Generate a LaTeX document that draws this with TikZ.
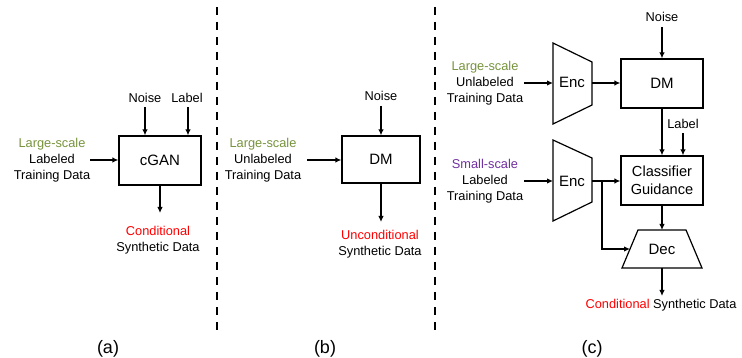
\documentclass[tikz,border=0pt]{standalone}
\usepackage{fontspec}
\setmainfont{Liberation Sans}
\usetikzlibrary{arrows.meta}
\definecolor{lgreen}{HTML}{77933C}
\definecolor{lpurple}{HTML}{7030A0}
\definecolor{lred}{HTML}{FF0000}
\begin{document}
\begin{tikzpicture}[x=1pt,y=-1pt,
  font=\fontsize{12.8}{16}\selectfont,
  txt/.style={align=center,inner sep=0pt},
  box/.style={draw,line width=1.2pt,inner sep=0pt,font=\fontsize{15}{18}\selectfont},
  arr/.style={-{Latex[length=6pt,width=5.5pt]},line width=1.4pt},
  sep/.style={line width=2pt,dash pattern=on 8pt off 7pt},
  panellabel/.style={inner sep=0pt,font=\fontsize{18}{21}\selectfont}]
\useasboundingbox (0,0) rectangle (742,358);

% separators
\draw[sep] (216.5,7) -- (216.5,331);
\draw[sep] (435,7) -- (435,331);

% ---------- (a) ----------
\node[box,minimum width=82pt,minimum height=49pt] (cgan) at (160,160.5) {cGAN};
\node[txt] (na) at (145,98) {Noise};
\node[txt] (la) at (187,98) {Label};
\node[txt] (ia) at (52,160) {{\color{lgreen}Large-scale}\\Labeled\\Training Data};
\node[txt] (oa) at (158,240) {{\color{lred}Conditional}\\Synthetic Data};
\coordinate (na1) at (145,107);
\coordinate (la1) at (188,107);
\coordinate (ia1) at (90,160);
\coordinate (oa1) at (160,213);
\draw[arr] (na1) -- (na1 |- cgan.north);
\draw[arr] (la1) -- (la1 |- cgan.north);
\draw[arr] (ia1) -- (ia1 -| cgan.west);
\draw[arr] (oa1 |- cgan.south) -- (oa1);
\node[panellabel] (ca) at (108,349) {(a)};

% ---------- (b) ----------
\node[box,minimum width=78pt,minimum height=47pt] (dmb) at (381,159.5) {DM};
\node[txt] (nb) at (381,96) {Noise};
\node[txt] (ib) at (263,160) {{\color{lgreen}Large-scale}\\Unlabeled\\Training Data};
\node[txt] (ob) at (380,244) {{\color{lred}Unconditional}\\Synthetic Data};
\coordinate (nb1) at (381,106);
\coordinate (ib1) at (307,160);
\coordinate (ob1) at (381,222);
\draw[arr] (nb1) -- (nb1 |- dmb.north);
\draw[arr] (ib1) -- (ib1 -| dmb.west);
\draw[arr] (dmb.south) -- (ob1);
\node[panellabel] (cb) at (325,349) {(b)};

% ---------- (c) ----------
% Enc 1
\coordinate (e1a) at (553,43);
\coordinate (e1b) at (592,62);
\coordinate (e1c) at (592,105);
\coordinate (e1d) at (553,124);
\draw[line width=1.2pt] (e1a) -- (e1b) -- (e1c) -- (e1d) -- cycle;
\node[txt,font=\fontsize{15}{18}\selectfont] (enc1) at (572,82) {Enc};
% Enc 2
\coordinate (e2a) at (553,140);
\coordinate (e2b) at (592,158);
\coordinate (e2c) at (592,202);
\coordinate (e2d) at (553,221);
\draw[line width=1.2pt] (e2a) -- (e2b) -- (e2c) -- (e2d) -- cycle;
\node[txt,font=\fontsize{15}{18}\selectfont] (enc2) at (572,181) {Enc};
% Dec
\coordinate (d1) at (638,230);
\coordinate (d2) at (686,230);
\coordinate (d3) at (702,268);
\coordinate (d4) at (622,268);
\draw[line width=1.2pt] (d1) -- (d2) -- (d3) -- (d4) -- cycle;
\node[txt,font=\fontsize{15}{18}\selectfont] (dec) at (662,249) {Dec};

\node[box,minimum width=82pt,minimum height=49pt] (dmc) at (662,83.5) {DM};
\node[box,minimum width=82pt,minimum height=49pt,align=center,font=\fontsize{14.6}{18}\selectfont] (cg) at (662,180.5) {Classifier\\Guidance};

\node[txt] (nc) at (662,17) {Noise};
\node[txt] (lc) at (683,124) {Label};
\node[txt] (ic1) at (485,83) {{\color{lgreen}Large-scale}\\Unlabeled\\Training Data};
\node[txt] (ic2) at (485,181) {{\color{lpurple}Small-scale}\\Labeled\\Training Data};
\node[txt] (oc) at (661,305) {{\color{lred}Conditional} Synthetic Data};

\coordinate (nc1) at (662,27);
\coordinate (lc1) at (683,133);
\coordinate (ic1a) at (524,83);
\coordinate (ic2a) at (524,181);
\coordinate (e1o) at (592,83);
\coordinate (e2o) at (592,181);
\coordinate (br) at (602,181);
\coordinate (brd) at (602,249);
\coordinate (decw) at (630,249);
\coordinate (oc1) at (662,296);

\draw[arr] (nc1) -- (nc1 |- dmc.north);
\draw[arr] (ic1a) -- (553,83);
\draw[arr] (e1o) -- (e1o -| dmc.west);
\draw[arr] (dmc.south) -- (cg.north);
\draw[arr] (lc1) -- (lc1 |- cg.north);
\draw[arr] (ic2a) -- (553,181);
\draw[arr] (e2o) -- (e2o -| cg.west);
\draw[arr] (br) -- (brd) -- (decw);
\draw[arr] (cg.south) -- (dec |- d1);
\draw[arr] (dec |- d4) -- (oc1);
\node[panellabel] (cc) at (592,349) {(c)};
\end{tikzpicture}
\end{document}
